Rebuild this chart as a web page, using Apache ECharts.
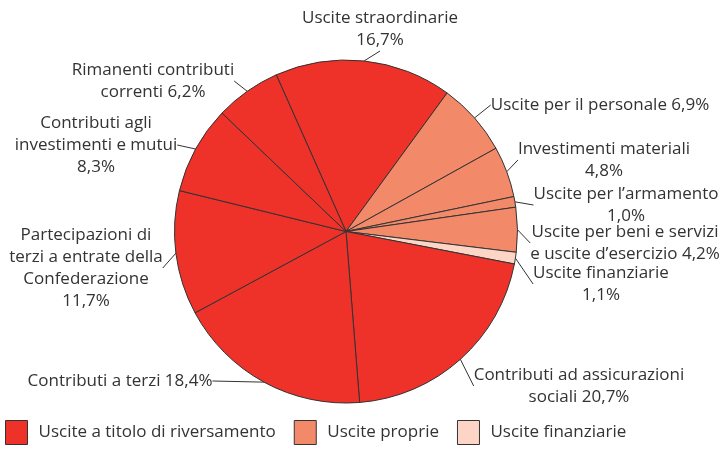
<!DOCTYPE html>
<html lang="it">
<head>
<meta charset="UTF-8">
<script src="https://cdn.jsdelivr.net/npm/echarts@6/dist/echarts.min.js"></script>
<style>
  html, body { margin: 0; padding: 0; background: #fff; }
  #chart { width: 726px; height: 449px; }
</style>
</head>
<body>
<div id="chart"></div>
<script>
// voci di spesa, in senso orario a partire da "Uscite straordinarie"
var names = [
    'Uscite straordinarie',
    'Uscite per il personale',
    'Investimenti materiali',
    'Uscite per l\u2019armamento',
    'Uscite per beni e servizi e uscite d\u2019esercizio',
    'Uscite finanziarie',
    'Contributi ad assicurazioni sociali',
    'Contributi a terzi',
    'Partecipazioni di terzi a entrate della Confederazione',
    'Contributi agli investimenti e mutui',
    'Rimanenti contributi correnti'
];
var shares = [16.7, 6.9, 4.8, 1.0, 4.2, 1.1, 20.7, 18.4, 11.7, 8.3, 6.2];
// gruppo di appartenenza (0 riversamento, 1 proprie, 2 finanziarie)
var groups = [0, 1, 1, 1, 1, 2, 0, 0, 0, 0, 0];
var groupNames = ['Uscite a titolo di riversamento', 'Uscite proprie', 'Uscite finanziarie'];

// testo delle etichette, con gli a capo come nell'originale ({v} = percentuale)
var labelTexts = [
    'Uscite straordinarie\n{v}',
    'Uscite per il personale {v}',
    'Investimenti materiali\n{v}',
    'Uscite per l\u2019armamento\n{v}',
    'Uscite per beni e servizi\ne uscite d\u2019esercizio {v}',
    'Uscite finanziarie\n{v}',
    'Contributi ad assicurazioni\nsociali {v}',
    'Contributi a terzi {v}',
    'Partecipazioni di\nterzi a entrate della\nConfederazione\n{v}',
    'Contributi agli\ninvestimenti e mutui\n{v}',
    'Rimanenti contributi\ncorrenti {v}'
];

var groupColors = ['#ee3129', '#f28a6a', '#fdd5c6'];
// punto centrale di ogni etichetta
var labelPos = [
    [380, 29], [600, 105], [604, 160], [626, 205], [625, 243], [601, 284],
    [579, 386], [120, 381], [86, 268], [96, 145], [153, 81]
];

var FONT = '"Open Sans", "Noto Sans", sans-serif';
var TEXT = '#333333';

var pieData = names.map(function (n, i) {
    return { name: n, value: shares[i], itemStyle: { color: groupColors[groups[i]] } };
});

var series = [{
    type: 'pie',
    center: [346, 231.5],
    radius: 171.5,
    startAngle: 114,
    clockwise: true,
    avoidLabelOverlap: false,
    silent: true,
    data: pieData,
    itemStyle: { borderColor: '#333333', borderWidth: 1 },
    label: {
        show: true,
        position: 'outside',
        color: TEXT,
        fontFamily: FONT,
        fontSize: 17,
        lineHeight: 22,
        formatter: function (p) {
            return labelTexts[p.dataIndex].replace('{v}', p.value.toFixed(1).replace('.', ',') + '%');
        }
    },
    labelLine: { show: true, length: 8, length2: 0, lineStyle: { color: '#333333', width: 1 } },
    labelLayout: function (p) {
        if (p.seriesIndex !== 0) return {};
        var pos = labelPos[p.dataIndex];
        return { x: pos[0], y: pos[1], align: 'center', verticalAlign: 'middle' };
    }
}];

// serie vuote solo per la legenda
groupNames.forEach(function (g, i) {
    series.push({
        type: 'pie',
        name: g,
        data: [],
        showEmptyCircle: false,
        itemStyle: { color: groupColors[i] }
    });
});

var chart = echarts.init(document.getElementById('chart'));
chart.setOption({
    backgroundColor: '#ffffff',
    animation: false,
    legend: {
        data: groupNames,
        left: 5,
        top: 420,
        padding: 0,
        itemWidth: 22,
        itemHeight: 24,
        itemGap: 18,
        icon: 'rect',
        selectedMode: false,
        itemStyle: { borderColor: '#333333', borderWidth: 1 },
        textStyle: { color: TEXT, fontFamily: FONT, fontSize: 17, padding: [0, 0, 0, 6] }
    },
    series: series
});
</script>
</body>
</html>
